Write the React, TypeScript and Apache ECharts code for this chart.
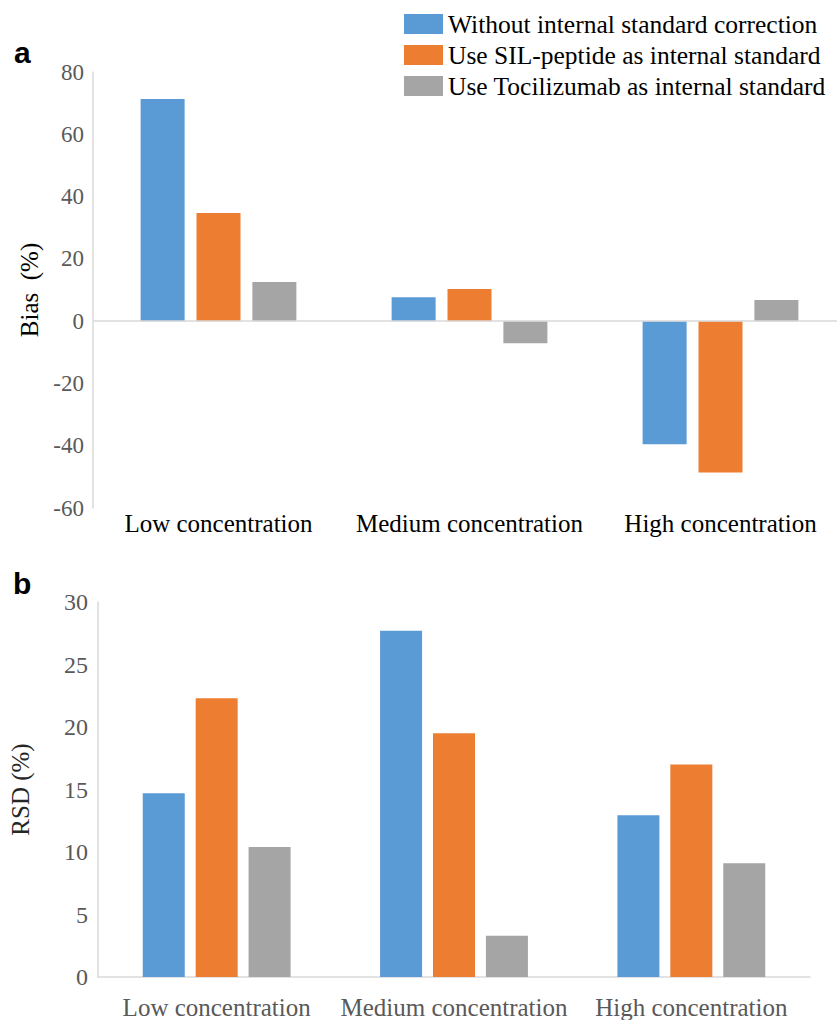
import React, { useEffect, useRef } from "react";
import * as echarts from "echarts";

const categories = ["Low concentration", "Medium concentration", "High concentration"];
const seriesNames = [
  "Without internal standard correction",
  "Use SIL-peptide as internal standard",
  "Use Tocilizumab as internal standard",
];
const colors = ["#5B9BD5", "#ED7D31", "#A5A5A5"];

// Panel a: Bias (%)
const biasWithout = [71.3, 7.7, -39.5];
const biasSIL = [34.7, 10.3, -48.6];
const biasToci = [12.6, -7.1, 6.8];

// Panel b: RSD (%)
const rsdWithout = [14.7, 27.7, 12.95];
const rsdSIL = [22.3, 19.5, 17.0];
const rsdToci = [10.4, 3.3, 9.1];

const serif = "Liberation Serif";

export default function App() {
  const ref = useRef<HTMLDivElement>(null);

  useEffect(() => {
    if (!ref.current) return;
    const chart = echarts.init(ref.current, null, { renderer: "svg" });
    const aData = [biasWithout, biasSIL, biasToci];
    const bData = [rsdWithout, rsdSIL, rsdToci];

    const seriesA = aData.map((d, i) => ({
      name: seriesNames[i],
      type: "bar",
      xAxisIndex: 0,
      yAxisIndex: 0,
      data: d,
      barWidth: 44,
      barGap: "27%",
      itemStyle: { color: colors[i] },
      markLine:
        i === 0
          ? {
              silent: true,
              symbol: "none",
              label: { show: false },
              lineStyle: { color: "#d9d9d9", type: "solid", width: 1.5 },
              data: [{ yAxis: 0 }],
            }
          : undefined,
    }));
    const seriesB = bData.map((d, i) => ({
      name: seriesNames[i],
      type: "bar",
      xAxisIndex: 1,
      yAxisIndex: 1,
      data: d,
      barWidth: 42,
      barGap: "26%",
      itemStyle: { color: colors[i] },
    }));

    chart.setOption({
      animation: false,
      legend: {
        orient: "vertical",
        left: 404,
        top: 11,
        padding: 0,
        itemWidth: 39,
        itemHeight: 20,
        itemGap: 5,
        icon: "rect",
        data: seriesNames,
        selectedMode: false,
        textStyle: { fontFamily: serif, fontSize: 25.5, color: "#000", lineHeight: 25 },
      },
      graphic: [
        {
          type: "text",
          left: 14,
          top: 37,
          style: { text: "a", font: "bold 30px 'Liberation Sans', Arial, sans-serif", fill: "#000" },
        },
        {
          type: "text",
          left: 13,
          top: 568,
          style: { text: "b", font: "bold 30px 'Liberation Sans', Arial, sans-serif", fill: "#000" },
        },
      ],
      grid: [
        { left: 93, top: 72, right: 4, height: 436 },
        { left: 93, top: 602, right: 40, height: 376 },
      ],
      xAxis: [
        {
          type: "category",
          gridIndex: 0,
          data: categories,
          axisLine: { show: false, onZero: false },
          axisTick: { show: false },
          axisLabel: { interval: 0, fontFamily: serif, fontSize: 25, color: "#000", margin: 3 },
        },
        {
          type: "category",
          gridIndex: 1,
          data: categories,
          axisLine: { show: true, lineStyle: { color: "#d9d9d9", width: 1.5 } },
          axisTick: { show: false },
          axisLabel: { interval: 0, fontFamily: serif, fontSize: 25, color: "#595959", margin: 18 },
        },
      ],
      yAxis: [
        {
          type: "value",
          gridIndex: 0,
          min: -60,
          max: 80,
          interval: 20,
          name: "Bias  (%)",
          nameLocation: "middle",
          nameGap: 45,
          nameTextStyle: { fontFamily: serif, fontSize: 25, color: "#000" },
          axisLine: { show: true, lineStyle: { color: "#d9d9d9", width: 1.5 } },
          axisTick: { show: false },
          splitLine: { show: false },
          axisLabel: { fontFamily: serif, fontSize: 23, color: "#595959", margin: 9 },
        },
        {
          type: "value",
          gridIndex: 1,
          min: 0,
          max: 30,
          interval: 5,
          name: "RSD (%)",
          nameLocation: "middle",
          nameGap: 65,
          nameTextStyle: { fontFamily: serif, fontSize: 25, color: "#262626" },
          axisLine: { show: true, lineStyle: { color: "#d9d9d9", width: 1.5 } },
          axisTick: { show: false },
          splitLine: { show: false },
          axisLabel: { fontFamily: serif, fontSize: 24, color: "#595959", margin: 10 },
        },
      ],
      series: [...seriesA, ...seriesB],
    });
    return () => chart.dispose();
  }, []);

  return (
    <div
      style={{
        position: "absolute",
        left: 0,
        top: 0,
        width: 837,
        height: 1020,
        overflow: "hidden",
      }}
    >
      <div ref={ref} style={{ width: 850, height: 1020 }} />
    </div>
  );
}
